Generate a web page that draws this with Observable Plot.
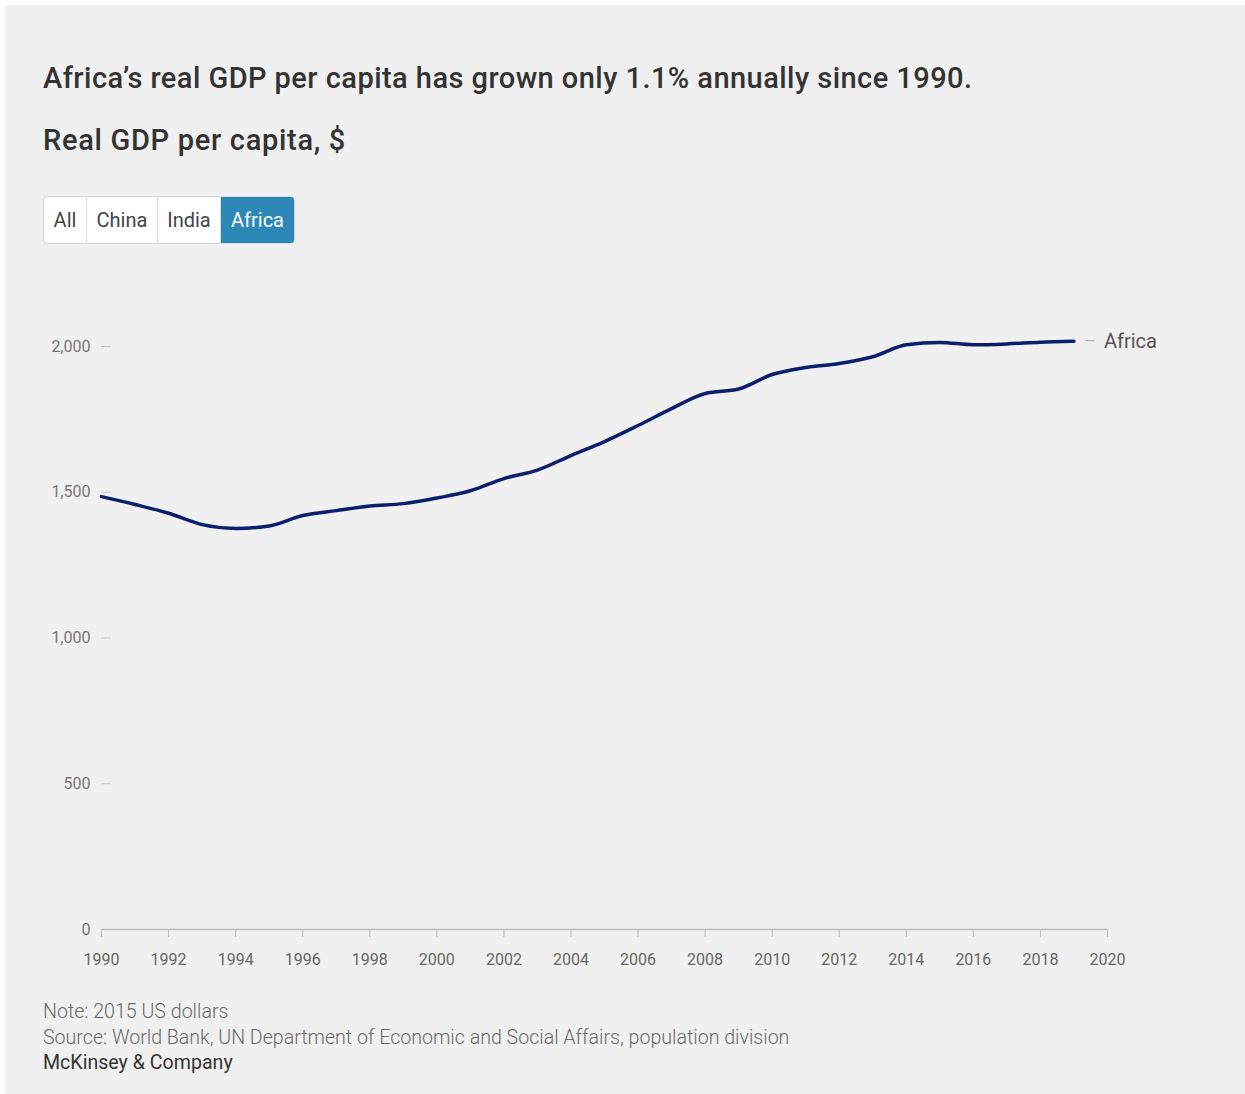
<!DOCTYPE html>
<html>
<head>
<meta charset="utf-8">
<script src="https://cdn.jsdelivr.net/npm/d3@7"></script>
<script src="https://cdn.jsdelivr.net/npm/@observablehq/plot@0.6"></script>
<style>
  html, body { margin: 0; padding: 0; background: #ffffff; }
  #frame { position: absolute; left: 5px; top: 5px; width: 1240px; height: 1089px; background: #f0f0f0; overflow: hidden; }
  .abs { position: absolute; font-family: Roboto, "Noto Sans", sans-serif; white-space: nowrap; }
  #title { left: 38px; top: 56px; font-size: 29px; letter-spacing: 0.45px; font-weight: 500; color: #333; }
  #subtitle { left: 38px; top: 118px; font-size: 29px; letter-spacing: 0.7px; font-weight: 500; color: #333; }
  #buttons { left: 38px; top: 191px; display: flex; height: 46px; border: 1px solid #d6d6d6; border-radius: 4px; background: #fff; overflow: hidden; }
  #buttons div { font-family: Roboto, sans-serif; font-size: 20px; color: #444; display: flex; align-items: center; justify-content: center; border-right: 1px solid #dcdcdc; box-sizing: border-box; }
  #buttons div.on { background: #2b88b7; color: #fff; border-right: none; }
  #chart { left: -5px; top: 265px; }
  #note { left: 38px; top: 994px; font-size: 19.6px; color: #6a6a6a; font-weight: 300; line-height: 25.5px; }
  #brand { color: #333; font-weight: 400; }
</style>
</head>
<body>
<div id="frame">
  <div id="title" class="abs">Africa’s real GDP per capita has grown only 1.1% annually since 1990.</div>
  <div id="subtitle" class="abs">Real GDP per capita, $</div>
  <div id="buttons" class="abs"></div>
  <div id="chart" class="abs"></div>
  <div id="note" class="abs">Note: 2015 US dollars<br>Source: World Bank, UN Department of Economic and Social Affairs, population division<br><span id="brand">McKinsey &amp; Company</span></div>
</div>
<script>
const buttonLabels = ["All", "China", "India", "Africa"];
const activeButton = "Africa";

const years = [1990, 1991, 1992, 1993, 1994, 1995, 1996, 1997, 1998, 1999,
  2000, 2001, 2002, 2003, 2004, 2005, 2006, 2007, 2008, 2009,
  2010, 2011, 2012, 2013, 2014, 2015, 2016, 2017, 2018, 2019];
const africaGdp = [1485, 1458, 1428, 1389, 1376, 1384, 1420, 1437, 1453, 1461,
  1480, 1505, 1547, 1576, 1626, 1674, 1729, 1787, 1839, 1854,
  1904, 1928, 1942, 1965, 2006, 2014, 2006, 2009, 2015, 2018];
const seriesName = "Africa";
const yTicks = [0, 500, 1000, 1500, 2000];
const xTicks = [1990, 1992, 1994, 1996, 1998, 2000, 2002, 2004, 2006, 2008, 2010, 2012, 2014, 2016, 2018, 2020];

const btnWidths = {All: 43, China: 71, India: 63, Africa: 73};
const bc = document.getElementById("buttons");
for (const b of buttonLabels) {
  const d = document.createElement("div");
  d.textContent = b;
  d.style.width = btnWidths[b] + "px";
  if (b === activeButton) d.className = "on";
  bc.appendChild(d);
}

const data = years.map((y, i) => ({year: y, value: africaGdp[i], name: seriesName}));
const last = data[data.length - 1];

const chart = Plot.plot({
  width: 1245,
  height: 720,
  marginLeft: 101,
  marginRight: 138,
  marginTop: 76,
  marginBottom: 61,
  style: {background: "transparent", fontFamily: "Roboto, sans-serif", fontSize: "16px", color: "#777"},
  x: {domain: [1990, 2020], ticks: xTicks, tickFormat: d => String(d), label: null},
  y: {domain: [0, 2000], ticks: yTicks, tickFormat: d3.format(","), label: null},
  marks: [
    Plot.axisY({ticks: yTicks, tickFormat: d3.format(","), tickSize: -10, tickPadding: 21, stroke: "#c8c8c8", fill: "#777", fontSize: 16, label: null}),
    Plot.axisX({ticks: xTicks, tickFormat: d => String(d), tickSize: 8, tickPadding: 16, stroke: "#bdbdbd", fill: "#666", fontSize: 16, label: null}),
    Plot.ruleY([0], {stroke: "#bdbdbd", strokeWidth: 1.5}),
    Plot.lineY(data, {x: "year", y: "value", stroke: "#0c1f6b", strokeWidth: 3.5, curve: "monotone-x"}),
    Plot.text([last], {x: "year", y: "value", text: () => "—", dx: 16, fill: "#bbb", fontSize: 14}),
    Plot.text([last], {x: "year", y: "value", text: "name", dx: 30, textAnchor: "start", fill: "#555", fontSize: 20})
  ]
});
document.getElementById("chart").appendChild(chart);
</script>
</body>
</html>
